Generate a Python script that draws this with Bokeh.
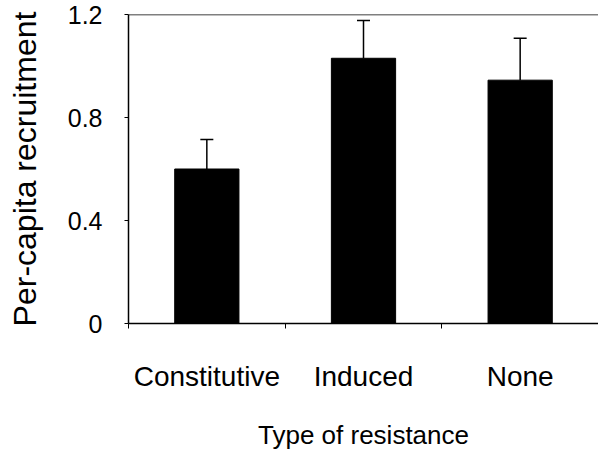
from bokeh.plotting import figure
from bokeh.models import Range1d, FixedTicker, Whisker, TeeHead, ColumnDataSource, Span
from bokeh.embed import file_html
from bokeh.resources import INLINE

# ---- data ----
categories = ["Constitutive", "Induced", "None"]
means = [0.60, 1.03, 0.945]
errors = [0.115, 0.147, 0.163]
y_ticks = [0, 0.4, 0.8, 1.2]
y_tick_labels = ["0", "0.4", "0.8", "1.2"]
x_title = "Type of resistance"
y_title = "Per-capita recruitment"

FONT = "Liberation Sans"

xs = [i + 0.5 for i in range(len(categories))]
uppers = [m + e for m, e in zip(means, errors)]
src = ColumnDataSource(dict(x=xs, top=means, upper=uppers))

p = figure(width=598, height=453, output_backend="svg", toolbar_location=None,
           x_range=Range1d(0, len(categories)), y_range=Range1d(y_ticks[0], y_ticks[-1]),
           min_border_left=128, min_border_right=0, min_border_top=14, min_border_bottom=130)
p.outline_line_color = None
p.xgrid.visible = False
p.ygrid.visible = False
p.background_fill_color = "white"
p.border_fill_color = "white"

p.vbar(x="x", top="top", bottom=0, width=0.41, source=src,
       fill_color="black", line_color="black")

w = Whisker(base="x", lower="top", upper="upper", source=src, dimension="height",
            line_color="black", line_width=1.5,
            upper_head=TeeHead(size=13, line_color="black", line_width=1.5),
            lower_head=None)
p.add_layout(w)

# top border line
p.add_layout(Span(location=y_ticks[-1], dimension="width", line_color="black", line_width=1.5))

# x axis
xa = p.xaxis[0]
xa.ticker = FixedTicker(ticks=xs, minor_ticks=list(range(len(categories) + 1)))
xa.major_label_overrides = {x: c for x, c in zip(xs, categories)}
xa.major_tick_out = 0
xa.major_tick_in = 0
xa.minor_tick_out = 5
xa.minor_tick_in = 0
xa.minor_tick_line_color = "black"
xa.axis_line_color = "black"
xa.axis_line_width = 1.5
xa.major_label_text_font = FONT
xa.major_label_text_font_size = "28px"
xa.major_label_text_color = "black"
xa.major_label_standoff = 32
xa.axis_label = x_title
xa.axis_label_text_font = FONT
xa.axis_label_text_font_size = "26px"
xa.axis_label_text_font_style = "normal"
xa.axis_label_text_color = "black"
xa.axis_label_standoff = 25

# y axis
ya = p.yaxis[0]
ya.ticker = FixedTicker(ticks=y_ticks, minor_ticks=[])
ya.major_label_overrides = {t: l for t, l in zip(y_ticks, y_tick_labels)}
ya.major_tick_out = 4
ya.major_tick_in = 0
ya.major_tick_line_color = "black"
ya.axis_line_color = "black"
ya.axis_line_width = 1.5
ya.major_label_text_font = FONT
ya.major_label_text_font_size = "25px"
ya.major_label_text_color = "black"
ya.major_label_standoff = 22
ya.axis_label = y_title
ya.axis_label_text_font = FONT
ya.axis_label_text_font_size = "32px"
ya.axis_label_text_font_style = "normal"
ya.axis_label_text_color = "black"
ya.axis_label_standoff = 22

open("out.html", "w").write(file_html(p, INLINE))
